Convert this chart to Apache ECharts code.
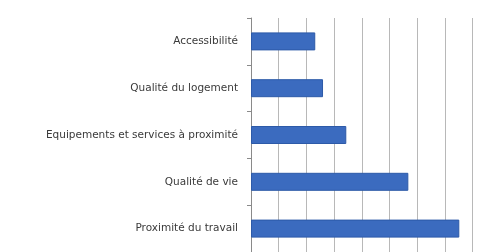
<!DOCTYPE html>
<html><head><meta charset="utf-8">
<script src="https://cdn.jsdelivr.net/npm/echarts@6/dist/echarts.min.js"></script>
<style>html,body{margin:0;padding:0;background:#fff}#c{width:486px;height:252px}</style>
</head><body><div id="c"></div>
<script>
const categories = ["Accessibilité", "Qualité du logement", "Equipements et services à proximité", "Qualité de vie", "Proximité du travail"];
const values = [11.6, 13.0, 17.2, 28.4, 37.6];
const chart = echarts.init(document.getElementById('c'), null, {renderer: 'canvas'});
chart.setOption({
  animation: false,
  grid: {left: 251, top: 18, width: 221.6, height: 240},
  xAxis: {type: 'value', min: 0, max: 40, interval: 5,
    axisLabel: {show: false}, axisLine: {show: false}, axisTick: {show: false},
    splitLine: {show: true, lineStyle: {color: '#b8b8b8', width: 1}}},
  yAxis: {type: 'category', inverse: true, data: categories,
    axisLine: {show: true, lineStyle: {color: '#8a8a8a'}},
    axisTick: {show: true, length: 4, lineStyle: {color: '#8a8a8a'}},
    axisLabel: {margin: 13, color: '#3a3a3a', fontSize: 10.5, fontFamily: 'DejaVu Sans'}},
  series: [{type: 'bar', data: values, barWidth: 18,
    itemStyle: {color: '#3b6bbf', borderColor: '#2d5aa8', borderWidth: 1}}]
});
</script></body></html>
